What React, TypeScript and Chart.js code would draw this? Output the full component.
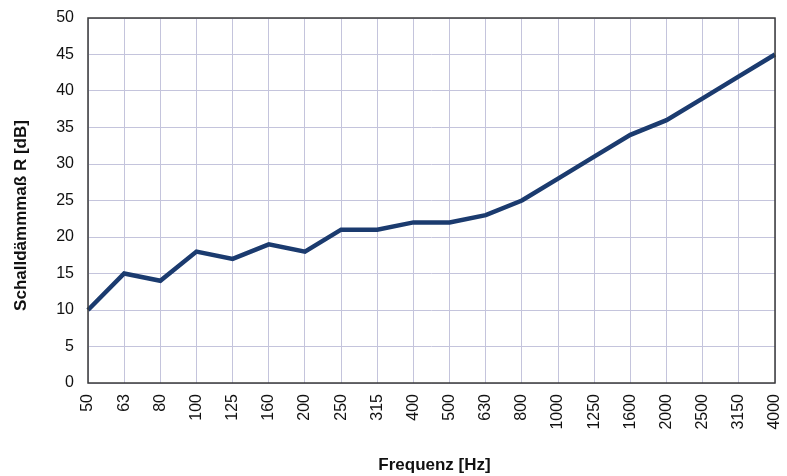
import React, { useEffect, useRef } from "react";
import { Chart, registerables } from "chart.js";

Chart.register(...registerables);

const frequencies = ["50", "63", "80", "100", "125", "160", "200", "250", "315", "400", "500", "630", "800", "1000", "1250", "1600", "2000", "2500", "3150", "4000"];
const soundReduction = [10, 15, 14, 18, 17, 19, 18, 21, 21, 22, 22, 23, 25, 28, 31, 34, 36, 39, 42, 45];
const yTicks = [0, 5, 10, 15, 20, 25, 30, 35, 40, 45, 50];
const xTitle = "Frequenz [Hz]";
const yTitle = "Schalldämmmaß R [dB]";

const FONT = "'Liberation Sans', Arial, Helvetica, sans-serif";

export default function App() {
  const ref = useRef<HTMLCanvasElement>(null);
  useEffect(() => {
    document.body.style.margin = "0";
    const framePlugin = {
      id: "frame",
      afterDraw(chart: any) {
        const { ctx, chartArea } = chart;
        ctx.save();
        ctx.strokeStyle = "#3a3a3a";
        ctx.lineWidth = 1.5;
        ctx.strokeRect(chartArea.left, chartArea.top, chartArea.right - chartArea.left, chartArea.bottom - chartArea.top);
        // axis titles
        ctx.fillStyle = "#111";
        ctx.font = `bold 17px ${FONT}`;
        ctx.textAlign = "center";
        ctx.textBaseline = "middle";
        ctx.fillText(xTitle, (chartArea.left + chartArea.right) / 2 + 3, 465);
        ctx.translate(21, (chartArea.top + chartArea.bottom) / 2 + 15);
        ctx.rotate(-Math.PI / 2);
        ctx.fillText(yTitle, 0, 0);
        ctx.restore();
      },
    };
    const chart = new Chart(ref.current!, {
      type: "line",
      data: {
        labels: frequencies,
        datasets: [
          {
            data: soundReduction,
            borderColor: "#1b3b6f",
            borderWidth: 4.5,
            pointRadius: 0,
            tension: 0,
            fill: false,
          },
        ],
      },
      options: {
        responsive: false,
        animation: false,
        layout: { padding: { left: 0, right: 12, top: 18, bottom: 0 } },
        plugins: { legend: { display: false }, tooltip: { enabled: false } },
        scales: {
          x: {
            offset: false,
            grid: { color: "#c4c4dc", lineWidth: 1, drawTicks: false },
            border: { display: false },
            ticks: {
              color: "#111",
              font: { family: FONT, size: 16 },
              minRotation: 90,
              maxRotation: 90,
              autoSkip: false,
              padding: 11,
            },
            title: { display: false },
            afterFit(scale: any) {
              scale.height = 93;
              scale.paddingRight = 0;
              scale.paddingLeft = 0;
            },
          },
          y: {
            min: 0,
            max: 50,
            afterBuildTicks(scale: any) {
              scale.ticks = yTicks.map((v) => ({ value: v }));
            },
            grid: { color: "#c4c4dc", lineWidth: 1, drawTicks: false },
            border: { display: false },
            ticks: {
              color: "#111",
              font: { family: FONT, size: 16 },
              padding: 14,
            },
            title: { display: false },
            afterFit(scale: any) {
              scale.width = 88;
              scale.paddingTop = 0;
              scale.paddingBottom = 0;
            },
          },
        },
      },
      plugins: [framePlugin],
    });
    return () => chart.destroy();
  }, []);
  return (
    <div style={{ width: 787, height: 476 }}>
      <canvas ref={ref} width={787} height={476} />
    </div>
  );
}
